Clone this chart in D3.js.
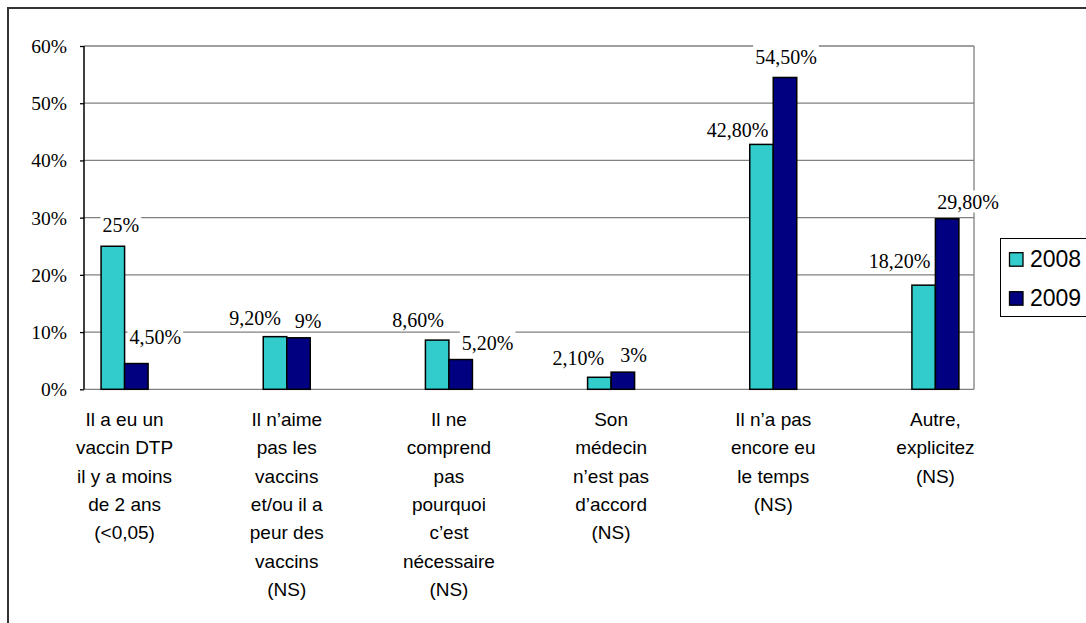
<!DOCTYPE html>
<html>
<head>
<meta charset="utf-8"/>
<title>Raisons</title>
<script src="https://d3js.org/d3.v7.min.js"></script>
<style>
  body { margin: 0; background: #fff; }
  .val-label { font-family: "Liberation Serif", "Times New Roman", serif; font-size: 20px; fill: #000; }
  .cat-label { font-family: "Liberation Sans", Arial, sans-serif; font-size: 19px; fill: #000; }
  .legend-label { font-family: "Liberation Sans", Arial, sans-serif; font-size: 23px; fill: #000; }
</style>
</head>
<body>
<svg id="chart" width="1086" height="623"></svg>
<script>

var categories = ["cat1","cat2","cat3","cat4","cat5","cat6"];
var categoryLines = [
  ["Il a eu un","vaccin DTP","il y a moins","de 2 ans","(<0,05)"],
  ["Il n\u2019aime","pas les","vaccins","et/ou il a","peur des","vaccins","(NS)"],
  ["Il ne","comprend","pas","pourquoi","c\u2019est","nécessaire","(NS)"],
  ["Son","médecin","n\u2019est pas","d\u2019accord","(NS)"],
  ["Il n\u2019a pas","encore eu","le temps","(NS)"],
  ["Autre,","explicitez","(NS)"]
];
var years = ["2008","2009"];
var values2008 = [0.25, 0.092, 0.086, 0.021, 0.428, 0.182];
var values2009 = [0.045, 0.09, 0.052, 0.03, 0.545, 0.298];
var labels2008 = ["25%","9,20%","8,60%","2,10%","42,80%","18,20%"];
var labels2009 = ["4,50%","9%","5,20%","3%","54,50%","29,80%"];
var yTicks = [0, 0.1, 0.2, 0.3, 0.4, 0.5, 0.6];

// hand placed label nudges, as in the original document
var labelDx = {"2008": [8,-20,-19,-21,-24,-24], "2009": [19,9.5,27,10.7,1,21]};
var labelGap = {"2008": [14,12,12.7,12.3,7.6,16.7], "2009": [20,10,10,9.7,13.7,9.3]};

var colors = {"2008": "#33cccc", "2009": "#000080"};

var plotLeft = 84, plotRight = 974;

var svg = d3.select("#chart");

// outer frame
svg.append("rect").attr("x", 8).attr("y", 8).attr("width", 1100).attr("height", 640)
  .style("fill", "none").style("stroke", "#333").style("stroke-width", 2);

var y = d3.scaleLinear().domain([0, 0.6]).range([389.3, 46]);
var x = d3.scaleBand().domain(categories).range([43.5, 1016.5]);
var xs = d3.scaleBand().domain(years).range([-23.5, 23.5]);

// gridlines
svg.selectAll("line.grid").data(yTicks).enter().append("line").attr("class","grid")
  .attr("x1", plotLeft).attr("x2", plotRight)
  .attr("y1", function(d){ return y(d); }).attr("y2", function(d){ return y(d); })
  .style("stroke", "#808080").style("stroke-width", 1.3);

// right side of plot area
svg.append("line").attr("x1", plotRight).attr("x2", plotRight).attr("y1", y(0.6)).attr("y2", y(0))
  .style("stroke", "#808080").style("stroke-width", 1.3);

// y axis
var yAxis = d3.axisLeft(y).tickValues(yTicks).tickSize(4).tickFormat(function(d){ return Math.round(d*100) + "%"; });
var ga = svg.append("g").attr("transform", "translate(" + plotLeft + ",0)").call(yAxis)
  .attr("font-family", "Liberation Serif, Times New Roman, serif").attr("font-size", 19.5);
ga.select(".domain").style("stroke", "#000").style("stroke-width", 1.5).attr("d", "M0," + y(0.6) + "V" + y(0));
ga.selectAll(".tick line").style("stroke", "#000").style("stroke-width", 1.3);
ga.selectAll(".tick text").attr("x", -17).attr("dy", "0.33em")
  .style("font-family", "'Liberation Serif', 'Times New Roman', serif").style("font-size", "19.5px").style("fill", "#000");

// bars
var series = years.map(function(yr){
  var vals = yr === "2008" ? values2008 : values2009;
  var labs = yr === "2008" ? labels2008 : labels2009;
  return categories.map(function(c, i){ return {cat: c, year: yr, value: vals[i], label: labs[i], i: i}; });
});
var flat = series[0].concat(series[1]);

svg.selectAll("rect.bar").data(flat).enter().append("rect").attr("class","bar")
  .attr("x", function(d){ return x(d.cat) + x.bandwidth()/2 + xs(d.year); })
  .attr("width", xs.bandwidth())
  .attr("y", function(d){ return y(d.value); })
  .attr("height", function(d){ return y(0) - y(d.value); })
  .style("fill", function(d){ return colors[d.year]; })
  .style("stroke", "#000").style("stroke-width", 1.5);

// value labels with white backgrounds
var lab = svg.selectAll("g.val").data(flat).enter().append("g").attr("class","val");
lab.each(function(d){
  var g = d3.select(this);
  var cx = x(d.cat) + x.bandwidth()/2 + xs(d.year) + xs.bandwidth()/2 + labelDx[d.year][d.i];
  var by = y(d.value) - labelGap[d.year][d.i];
  var bg = g.append("rect").style("fill", "#fff");
  var t = g.append("text").attr("class","val-label").attr("x", cx).attr("y", by)
    .attr("text-anchor", "middle").text(d.label);
  var bb = t.node().getBBox();
  bg.attr("x", bb.x - 2).attr("y", by - 19).attr("width", bb.width + 4).attr("height", 22);
});

// category labels
svg.selectAll("text.cat").data(categories).enter().append("text").attr("class","cat-label")
  .attr("text-anchor", "middle")
  .each(function(c, i){
    var t = d3.select(this);
    categoryLines[i].forEach(function(line, k){
      t.append("tspan").attr("x", x(c) + x.bandwidth()/2).attr("y", 426 + k*28.3).text(line);
    });
  });

// legend
var lg = svg.append("g");
lg.append("rect").attr("x", 1000.5).attr("y", 238.5).attr("width", 120).attr("height", 78)
  .style("fill", "#fff").style("stroke", "#000").style("stroke-width", 1);
years.forEach(function(yr, k){
  var yy = 252.7 + k*39;
  lg.append("rect").attr("x", 1009.5).attr("y", yy).attr("width", 13.5).attr("height", 13.5)
    .style("fill", colors[yr]).style("stroke", "#000").style("stroke-width", 1.3);
  lg.append("text").attr("class","legend-label").attr("x", 1030).attr("y", yy + 14).text(yr);
});

</script>
</body>
</html>
